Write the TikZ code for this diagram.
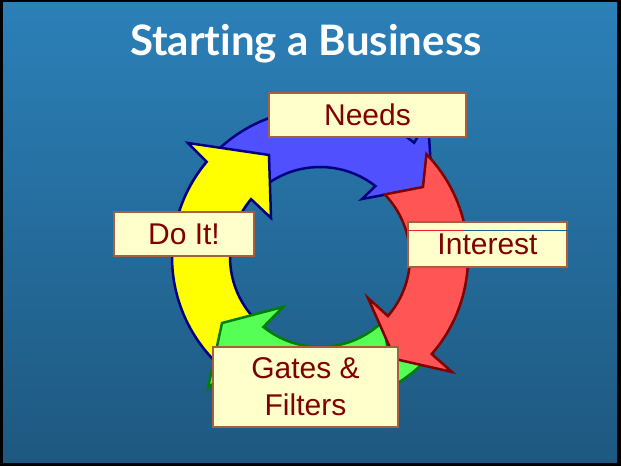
\documentclass[tikz,border=0pt]{standalone}
\usepackage{fontspec}
\setmainfont{Liberation Sans}
\newfontfamily\titlefont[Ligatures={NoCommon,NoDiscretionary,NoRare}]{Lato}
\definecolor{bgtop}{RGB}{43,128,184}
\definecolor{bgbot}{RGB}{30,88,128}
\definecolor{navyline}{RGB}{0,0,128}
\definecolor{bluefill}{RGB}{80,80,255}
\definecolor{yellowfill}{RGB}{255,255,0}
\definecolor{redfill}{RGB}{255,85,85}
\definecolor{redline}{RGB}{128,0,0}
\definecolor{greenfill}{RGB}{85,255,85}
\definecolor{greenline}{RGB}{0,128,0}
\definecolor{boxfill}{RGB}{255,255,204}
\definecolor{boxline}{RGB}{165,95,65}
\definecolor{txt}{RGB}{128,0,0}
\definecolor{stripred}{RGB}{225,40,40}
\definecolor{stripblue}{RGB}{30,95,135}
\tikzset{
  arrowshape/.style={line width=2.5pt, line join=miter},
  label box/.style={draw=boxline, fill=boxfill, line width=1.2pt, inner sep=0pt,
    text=txt, font=\fontsize{30}{37}\selectfont, align=center}
}
\begin{document}
\begin{tikzpicture}[x=1pt,y=1pt]
\useasboundingbox (0,0) rectangle (621,466);
\fill[black] (0,0) rectangle (621,466);
\shade[top color=bgtop, bottom color=bgbot] (3,4) rectangle (617,463);

\node[font=\titlefont\bfseries\fontsize{42}{46}\selectfont, text=white] (title) at (306,422) {Starting a Business};

\begin{scope}[shift={(320,209)}]
  % blue
  \filldraw[arrowshape, fill=bluefill, draw=navyline]
    (155:148) arc[start angle=155, end angle=50.5, radius=148]
    -- (108,138) -- (112,71) -- (42,58) -- (52:90)
    arc[start angle=52, end angle=155, radius=90] -- (145:119) -- cycle;
  % yellow
  \filldraw[arrowshape, fill=yellowfill, draw=navyline]
    (235:148) arc[start angle=235, end angle=140, radius=148]
    -- (-132,114) -- (-51,102) -- (-49,39) -- (140:90)
    arc[start angle=140, end angle=235, radius=90] -- (225:119) -- cycle;
  % green
  \filldraw[arrowshape, fill=greenfill, draw=greenline]
    (315:148) arc[start angle=315, end angle=231, radius=148]
    -- (-112,-131) -- (-98,-66) -- (-37,-50) -- (231:90)
    arc[start angle=231, end angle=315, radius=90] -- (305:119) -- cycle;
  % red
  \filldraw[arrowshape, fill=redfill, draw=redline]
    (44:148) arc[start angle=44, end angle=-41, radius=148]
    -- (132,-115) -- (75,-102) -- (48,-41) -- (-41:90)
    arc[start angle=-41, end angle=44, radius=90] -- (103,70) -- cycle;
\end{scope}

\node[label box, minimum width=197pt, minimum height=44pt] (needs) at (367.5,351) {Needs};
\node[label box, minimum width=159pt, minimum height=45pt] (interest) at (487.5,221.5) {Interest};
\draw[stripred, line width=0.8pt] ([yshift=-9pt]interest.north west) -- ++(57,0) coordinate (mid);
\draw[stripblue, line width=0.8pt] (mid) -- ([yshift=-9pt]interest.north east);
\node[label box, minimum width=140pt, minimum height=44pt] (doit) at (184,232) {Do It!};
\node[label box, minimum width=185pt, minimum height=80pt] (gates) at (305.5,79) {Gates \&\\Filters};
\end{tikzpicture}
\end{document}
